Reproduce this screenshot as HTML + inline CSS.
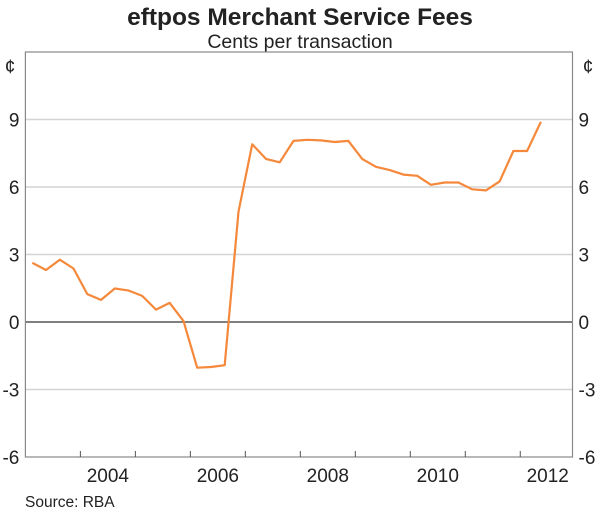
<!DOCTYPE html>
<html><head><meta charset="utf-8"><style>
body{margin:0;background:#fff;}
svg text{font-family:"Liberation Sans",Arial,sans-serif;fill:#222;}
</style></head><body>
<svg id="chart" width="600" height="512" viewBox="0 0 600 512">
<text x="300" y="25" text-anchor="middle" font-size="24.5" font-weight="bold">eftpos Merchant Service Fees</text>
<text x="300" y="48" text-anchor="middle" font-size="19.5">Cents per transaction</text>
<text x="10" y="73" text-anchor="middle" font-size="19">¢</text>
<text x="588" y="73" text-anchor="middle" font-size="19">¢</text>
<g id="grid"></g>
<g id="axes"></g>
<path id="line" fill="none" stroke="#f5883a" stroke-width="2.2" stroke-linejoin="round"></path>
<text x="25" y="507" font-size="15.5">Source: RBA</text>
</svg>
<script>
const yTicks=[-6,-3,0,3,6,9];
const yTickLabels=["-6","-3","0","3","6","9"];
const xLabels=["2004","2006","2008","2010","2012"];
const xLabelYears=[2004,2006,2008,2010,2012];
const startQuarter=2003.125;
const values=[2.63,2.31,2.77,2.38,1.24,0.98,1.49,1.40,1.16,0.55,0.85,0.04,-2.03,-2.0,-1.92,
4.9,7.9,7.25,7.1,8.05,8.1,8.07,8.0,8.05,7.25,6.9,6.75,6.55,6.5,6.1,6.2,6.2,5.9,5.85,6.25,7.6,7.6,8.9];
const L=25.4,R=572.5,T=52,B=457,x0=2003,x1=2012.95,yMin=-6,yMax=12;
const X=t=>L+(t-x0)/(x1-x0)*(R-L);
const Y=v=>B-(v-yMin)/(yMax-yMin)*(B-T);
const NS="http://www.w3.org/2000/svg";
function mk(tag,attrs,parent,text){const e=document.createElementNS(NS,tag);for(const k in attrs)e.setAttribute(k,attrs[k]);if(text!==undefined)e.textContent=text;parent.appendChild(e);return e;}
const grid=document.getElementById('grid'),axes=document.getElementById('axes');
yTicks.forEach((v,i)=>{
  if(v!==0&&v!==-6){const g=mk('line',{x1:L,x2:R,y1:Y(v),y2:Y(v),stroke:'#d4d4d4','stroke-width':1.5},grid);
  
  }
  const a=mk('text',{x:L-6,y:Y(v)+7,'text-anchor':'end','font-size':19},axes,yTickLabels[i]);
  
  
  const b=mk('text',{x:R+6,y:Y(v)+7,'text-anchor':'start','font-size':19},axes,yTickLabels[i]);
  
  
});
const z=mk('line',{x1:L,x2:R,y1:Y(0),y2:Y(0),stroke:'#333','stroke-width':1.2},axes);


const fr=mk('rect',{x:L,y:T,width:R-L,height:B-T,fill:'none',stroke:'#888','stroke-width':1.2},axes);


for(let yr=2004;yr<=2012;yr++){const t=mk('line',{x1:X(yr),x2:X(yr),y1:B,y2:B-6,stroke:'#555','stroke-width':1},axes);

}
xLabels.forEach((s,i)=>{const t=mk('text',{x:X(xLabelYears[i]+0.5),y:B+25,'text-anchor':'middle','font-size':19},axes,s);

});
document.getElementById('line').setAttribute('d',values.map((v,i)=>(i?'L':'M')+X(startQuarter+0.25*i).toFixed(1)+','+Y(v).toFixed(1)).join(''));
</script>
</body></html>
